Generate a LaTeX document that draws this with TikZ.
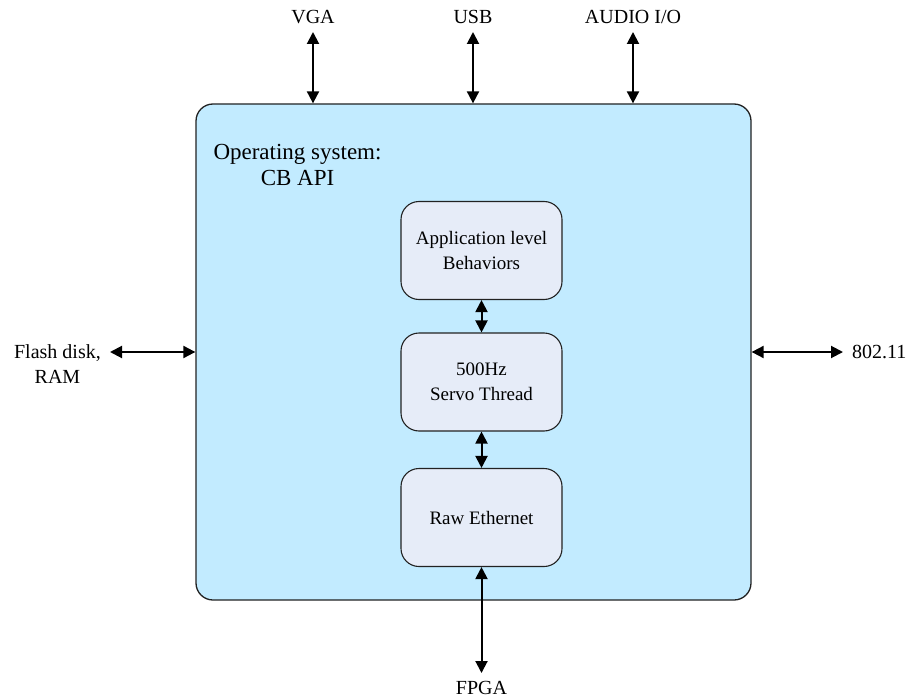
\documentclass[tikz,border=0pt]{standalone}
\usepackage{fontspec}
\setmainfont{Liberation Serif}
\usetikzlibrary{arrows.meta}
\definecolor{osfill}{RGB}{194,235,255}
\definecolor{boxfill}{RGB}{230,236,248}
\definecolor{edge}{RGB}{34,34,34}
\begin{document}
\begin{tikzpicture}[x=1pt,y=-1pt,
  osbox/.style={draw=edge, line width=1.3pt, fill=osfill, rounded corners=17pt, minimum width=555pt, minimum height=496pt, inner sep=0pt},
  inbox/.style={draw=edge, line width=1.1pt, fill=boxfill, rounded corners=18pt, minimum width=161pt, minimum height=98pt, align=center, font=\fontsize{19}{25}\selectfont, inner sep=0pt},
  lbl/.style={font=\fontsize{20}{25}\selectfont, text height=13.5pt, text depth=0pt, inner xsep=0pt, inner ysep=8pt},
  sidelbl/.style={font=\fontsize{20}{25}\selectfont, align=center, inner xsep=9pt, inner ysep=0pt},
  arr/.style={line width=2pt, {Triangle[width=12pt,length=12pt]}-{Triangle[width=12pt,length=12pt]}}
]
\useasboundingbox (0,0) rectangle (910,698);
\node[osbox] (os) at (473.5,352) {};
\node[align=center, font=\fontsize{23}{26}\selectfont, inner sep=0pt] (ostitle) at (297.5,165) {Operating system:\\CB API};
\node[inbox] (app) at (481.5,250.5) {Application level\\Behaviors};
\node[inbox] (servo) at (481.5,382) {500Hz\\Servo Thread};
\node[inbox] (raw) at (481.5,517.5) {Raw Ethernet};
\node[lbl, anchor=south] (vga) at (313,32) {VGA};
\node[lbl, anchor=south] (usb) at (473,32) {USB};
\node[lbl, anchor=south] (audio) at (633,32) {AUDIO I/O};
\node[lbl, anchor=north, inner ysep=7.5pt] (fpga) at (481.5,673) {FPGA};
\node[sidelbl, anchor=east] (flash) at (110,364.5) {Flash disk,\\RAM};
\node[sidelbl, anchor=west, text height=13.5pt, text depth=0pt] (wifi) at (843,352) {802.11};
\draw[arr] (vga.south) -- (vga.south |- os.north);
\draw[arr] (usb.south) -- (usb.south |- os.north);
\draw[arr] (audio.south) -- (audio.south |- os.north);
\draw[arr] (os.west -| flash.east) -- (os.west);
\draw[arr] (os.east) -- (wifi.west);
\draw[arr] (app) -- (servo);
\draw[arr] (servo) -- (raw);
\draw[arr] (raw) -- (fpga);
\end{tikzpicture}
\end{document}
